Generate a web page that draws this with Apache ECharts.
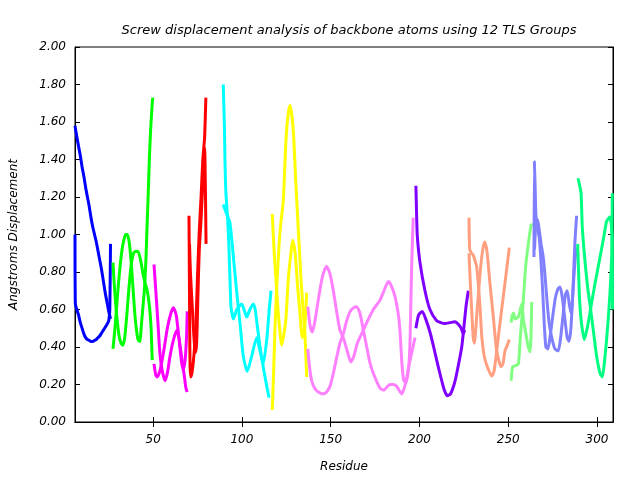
<!DOCTYPE html>
<html>
<head>
<meta charset="utf-8">
<script src="https://cdn.jsdelivr.net/npm/echarts@6/dist/echarts.min.js"></script>
<style>html,body{margin:0;padding:0;background:#fff;}#c{width:640px;height:480px;}</style>
</head>
<body>
<div id="c"></div>
<script>
// ---- Data (residue, displacement) ----
const titleText = 'Screw displacement analysis of backbone atoms using 12 TLS Groups';
const xTicks = [50, 100, 150, 200, 250, 300];
const groupColors = ['#0000ff','#00ff00','#ff00ff','#ff0000','#00ffff','#ffff00','#ff80ff','#8000ff','#ff9f80','#80ff80','#8080ff','#00ff80'];

const blueA = [[6,1.58],[6.5,1.55],[8,1.47],[9,1.42],[10,1.36],[11,1.31],[12,1.25],[13,1.20],[14,1.15],[15,1.09],[16,1.04],[17,1.00],[18,0.96],[19,0.91],[20,0.86],[21,0.81],[22,0.75],[23,0.69],[24,0.64],[25,0.59],[26,0.55]];
const blueB = [[6,1.0],[6.2,0.63],[7,0.60],[8,0.57],[9,0.53],[10,0.50],[11,0.47],[12,0.45],[13,0.44],[14,0.435],[15,0.43],[16,0.43],[17,0.435],[18,0.44],[19,0.45],[20,0.46],[21,0.475],[22,0.49],[23,0.505],[24,0.52],[25,0.54],[25.6,0.60],[26,0.95]];
const greenA = [[27.4,0.39],[28.5,0.50],[29.5,0.62],[30.5,0.74],[31.5,0.84],[32.5,0.92],[33.5,0.97],[34.5,1.00],[35.5,1.00],[36.5,0.96],[37.5,0.87],[38.5,0.74],[39.5,0.60],[40.5,0.50],[41.5,0.44],[42.5,0.43],[43.5,0.53],[44.5,0.64],[45.2,0.72],[46,0.88],[46.5,1.02],[47.1,1.18],[47.9,1.41],[48.6,1.56],[49.5,1.70],[49.8,1.73]];
const greenB = [[27.4,0.85],[28,0.75],[29,0.62],[30,0.52],[31,0.45],[32,0.42],[33,0.41],[34,0.45],[35,0.55],[36,0.67],[37,0.78],[38,0.86],[39,0.90],[40,0.91],[41.5,0.91],[43,0.86],[44.3,0.79],[45.5,0.74],[46.7,0.70],[48,0.61],[48.9,0.49],[49.5,0.33]];
const magentaA = [[50.5,0.84],[51.5,0.70],[52.7,0.53],[53.7,0.38],[55,0.28],[56.7,0.22],[58,0.26],[59.5,0.35],[61.5,0.44],[63.3,0.49],[64.5,0.45],[66,0.35],[67.5,0.25],[68.5,0.18],[69.2,0.16]];
const magentaB = [[50.5,0.31],[51.5,0.25],[52.4,0.24],[54,0.28],[56,0.38],[58,0.50],[60,0.58],[61.4,0.61],[63,0.57],[64.5,0.45],[66,0.32],[67,0.28],[68,0.33],[68.8,0.45],[69.2,0.59]];
const redA = [[70.2,1.10],[70.4,0.80],[70.6,0.50],[70.8,0.30],[71.2,0.24],[72,0.27],[73,0.36],[74,0.50],[75,0.78],[76,1.02],[77,1.20],[78,1.40],[79,1.52],[79.7,1.73]];
const redB = [[70.5,0.95],[71,0.80],[72,0.62],[73,0.45],[73.8,0.37],[74.5,0.42],[75.3,0.70],[76,0.92],[77,1.08],[78,1.28],[79,1.46],[79.5,1.20],[79.8,0.95]];
const cyanA = [[89.5,1.80],[90.1,1.59],[90.5,1.38],[91,1.22],[92,1.08],[92.7,0.93],[93.3,0.76],[93.9,0.61],[95.2,0.55],[97.1,0.60],[99.9,0.63],[101.5,0.59],[102.7,0.56],[104.5,0.60],[106.4,0.63],[107.5,0.60],[108.3,0.54],[110.2,0.40],[112,0.295],[114,0.19],[115.3,0.13]];
const cyanB = [[89.5,1.16],[91.4,1.11],[93.3,1.06],[95.2,0.88],[97.1,0.69],[98.9,0.53],[100.8,0.35],[103,0.27],[105.5,0.35],[108.3,0.45],[110.2,0.38],[112,0.31],[114,0.44],[115.4,0.60],[116.4,0.70]];
const yellowA = [[117.1,1.11],[118.2,0.90],[119.2,0.76],[120.5,0.58],[122.4,0.41],[124.7,0.54],[126.1,0.76],[127.6,0.90],[128.6,0.97],[130,0.90],[131.4,0.72],[132.7,0.58],[134,0.45],[135.3,0.50],[136.5,0.69]];
const yellowB = [[117.1,0.064],[117.7,0.22],[118.6,0.49],[119.6,0.72],[121.5,1.02],[123.3,1.18],[124.8,1.50],[126,1.64],[127.1,1.69],[128.9,1.56],[130.3,1.29],[131.8,1.02],[133.3,0.76],[134.6,0.58],[135.5,0.47],[136.5,0.24]];
const violetA = [[137.1,0.615],[138.3,0.52],[139.6,0.48],[141,0.53],[143,0.65],[145,0.76],[146.5,0.81],[147.7,0.83],[149.6,0.79],[151.5,0.70],[153.5,0.58],[155.2,0.49],[157.1,0.45],[159.3,0.38],[161.3,0.32],[163,0.35],[165,0.42],[168.4,0.49],[170.3,0.53],[174,0.60],[177.8,0.65],[180,0.70],[182.5,0.75],[184,0.73],[186.2,0.67],[188,0.58],[189,0.49],[190.2,0.30],[191.2,0.22],[192.4,0.21],[194,0.30],[194.7,0.44],[195.6,0.83],[196.5,1.09]];
const violetB = [[137.1,0.39],[138,0.30],[139.3,0.22],[141,0.18],[143,0.16],[145.8,0.15],[147.7,0.16],[149.6,0.19],[151.5,0.26],[153.5,0.35],[155.2,0.42],[157.1,0.47],[159,0.54],[161,0.59],[163,0.61],[164.6,0.615],[166.5,0.58],[168.4,0.49],[170.3,0.40],[172,0.32],[174,0.26],[177.8,0.18],[180,0.17],[182,0.19],[183.4,0.20],[185,0.20],[187.2,0.19],[190,0.15],[192,0.20],[194.5,0.32],[197.5,0.45]];
const purpleA = [[198,1.26],[198.4,1.10],[198.8,0.99],[200.3,0.85],[203.1,0.70],[205.9,0.60],[209.7,0.54],[212,0.53],[214.4,0.525],[217.2,0.53],[220,0.535],[222,0.52],[223.5,0.50],[224.7,0.47],[225.5,0.49]];
const purpleB = [[198,0.50],[199.5,0.57],[201.6,0.59],[203.5,0.55],[205.9,0.48],[208,0.40],[209.7,0.33],[212,0.24],[214,0.17],[215.8,0.14],[217.5,0.15],[219.5,0.20],[221,0.26],[223.8,0.40],[225.5,0.55],[226.2,0.615],[227.5,0.70]];
const salmonA = [[227.9,1.09],[228.3,0.92],[229.3,0.90],[230.3,0.89],[231.3,0.86],[232.2,0.83],[233.1,0.74],[234.1,0.615],[235.1,0.455],[236,0.38],[237,0.33],[238.8,0.28],[240.7,0.245],[242,0.27],[243.5,0.38],[245,0.50],[246.3,0.60],[248.6,0.775],[250.6,0.93]];
const salmonB = [[227.9,0.90],[228.6,0.75],[229.4,0.60],[230.2,0.46],[230.9,0.42],[232.2,0.56],[234.1,0.79],[235.5,0.91],[236.7,0.96],[237.9,0.92],[239.7,0.74],[241.6,0.56],[243.5,0.38],[245.9,0.295],[247,0.31],[248.2,0.38],[249.5,0.41],[250.6,0.44]];
const lightGreenA = [[251.6,0.53],[252.3,0.57],[253,0.58],[253.8,0.55],[255.7,0.56],[257.6,0.63],[258.5,0.55],[259.4,0.50],[260.5,0.44],[261.3,0.40],[262.3,0.375],[262.8,0.45],[263.2,0.64]];
const lightGreenB = [[251.6,0.22],[252.5,0.295],[254,0.30],[255.7,0.31],[256.8,0.45],[258.5,0.65],[259.8,0.83],[261.3,0.95],[262.5,1.03],[263.2,1.06]];
const slateA = [[264.5,0.88],[264.7,1.39],[265.1,1.27],[265.6,1.10],[266.5,1.03],[267.5,0.98],[268.5,0.85],[269.5,0.68],[270.3,0.52],[271.2,0.40],[272.3,0.39],[273.5,0.45],[275,0.56],[276.5,0.66],[278,0.71],[279.2,0.72],[280.5,0.66],[282,0.54],[283.2,0.45],[284.2,0.43],[285.3,0.50],[286.5,0.72],[287.5,0.95],[288.5,1.10]];
const slateB = [[264.8,0.92],[265.5,1.05],[266.5,1.08],[267.5,1.02],[268.5,0.95],[269.7,0.88],[270.8,0.77],[271.8,0.65],[273,0.53],[274.5,0.45],[276.3,0.39],[278.2,0.38],[279.5,0.45],[281,0.58],[282.2,0.68],[283.2,0.70],[284.5,0.62],[285.5,0.58],[286.5,0.70],[287.5,0.85],[288.3,0.93]];
const springA = [[289.3,1.30],[289.8,1.28],[291,1.22],[291.7,1.04],[293.2,0.86],[294.7,0.72],[296,0.63],[297.9,0.49],[299.8,0.35],[301.7,0.26],[303,0.24],[304.5,0.35],[306,0.51],[307.3,0.69],[308.3,0.90],[308.6,1.22]];
const springB = [[289.1,0.95],[289.5,0.83],[290.2,0.65],[291.2,0.53],[292.8,0.44],[294.7,0.51],[296.6,0.615],[298.9,0.74],[301.1,0.85],[303.5,0.97],[305.4,1.07],[307.3,1.095],[308.6,0.97],[308.7,0.60]];

const groupCurves = [
  [blueA, blueB], [greenA, greenB], [magentaA, magentaB], [redA, redB],
  [cyanA, cyanB], [yellowA, yellowB], [violetA, violetB], [purpleA, purpleB],
  [salmonA, salmonB], [lightGreenA, lightGreenB], [slateA, slateB], [springA, springB]
];

const FONT = 'DejaVu Sans';
const series = [];
groupCurves.forEach(function (curves, g) {
  curves.forEach(function (pts, k) {
    series.push({
      name: 'TLS group ' + (g + 1) + (k ? ' b' : ' a'),
      type: 'line',
      data: pts,
      showSymbol: false,
      smooth: 0.2,
      animation: false,
      lineStyle: { color: groupColors[g], width: 3 },
      itemStyle: { color: groupColors[g] },
      z: 2
    });
  });
});

const chart = echarts.init(document.getElementById('c'), null, { renderer: 'canvas' });
const tickStyle = { show: true, inside: true, length: 5, lineStyle: { color: '#000', width: 1 } };
chart.setOption({
  animation: false,
  backgroundColor: '#fff',
  title: {
    text: titleText, left: 344, top: 19, textAlign: 'center',
    textStyle: { fontFamily: FONT, fontStyle: 'italic', fontWeight: 'normal', fontSize: 13, color: '#000' }
  },
  grid: { left: 75, right: 27, top: 47, bottom: 58, containLabel: false, show: true, borderColor: '#000', borderWidth: 1 },
  xAxis: [{
    type: 'value', min: 6, max: 309, position: 'bottom',
    name: 'Residue', nameLocation: 'middle', nameGap: 39,
    nameTextStyle: { fontFamily: FONT, fontStyle: 'italic', fontSize: 12, color: '#000' },
    axisLine: { show: true, lineStyle: { color: '#000', width: 1 } },
    axisTick: Object.assign({ customValues: xTicks }, tickStyle),
    axisLabel: { customValues: xTicks, margin: 12, fontFamily: FONT, fontStyle: 'italic', fontSize: 12, color: '#000' },
    splitLine: { show: false }
  }, {
    type: 'value', min: 6, max: 309, position: 'top',
    axisLine: { show: true, lineStyle: { color: '#000', width: 1 } },
    axisTick: Object.assign({ customValues: xTicks }, tickStyle),
    axisLabel: { show: false }, splitLine: { show: false }
  }],
  yAxis: [{
    type: 'value', min: 0, max: 2, interval: 0.2, position: 'left',
    name: 'Angstroms Displacement', nameLocation: 'middle', nameGap: 55,
    nameTextStyle: { fontFamily: FONT, fontStyle: 'italic', fontSize: 12, color: '#000' },
    axisLine: { show: true, lineStyle: { color: '#000', width: 1 } },
    axisTick: tickStyle,
    axisLabel: { margin: 9, fontFamily: FONT, fontStyle: 'italic', fontSize: 12, color: '#000',
      formatter: function (v) { return v.toFixed(2); } },
    splitLine: { show: false }
  }, {
    type: 'value', min: 0, max: 2, interval: 0.2, position: 'right',
    axisLine: { show: true, lineStyle: { color: '#000', width: 1 } },
    axisTick: tickStyle, axisLabel: { show: false }, splitLine: { show: false }
  }],
  series: series
});
</script>
</body>
</html>
